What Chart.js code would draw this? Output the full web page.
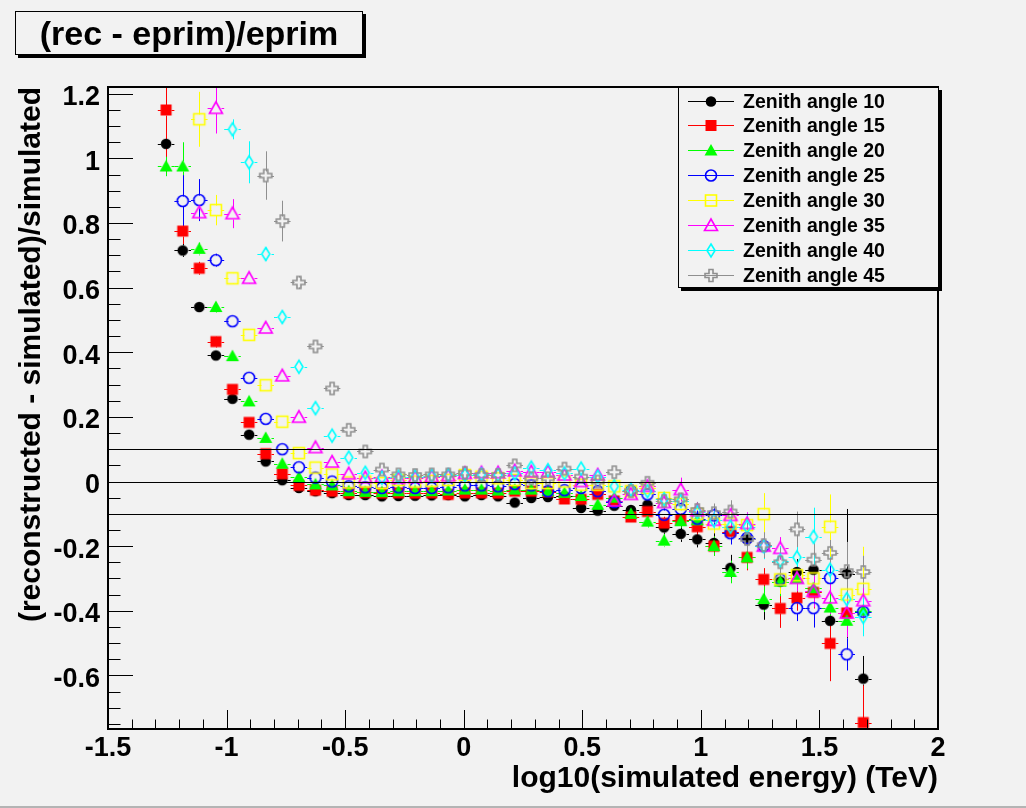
<!DOCTYPE html>
<html lang="en">
<head>
<meta charset="UTF-8">
<title>(rec - eprim)/eprim</title>
<script src="https://cdn.jsdelivr.net/npm/chart.js@4.4.1/dist/chart.umd.min.js"></script>
<style>
  body { margin: 0; background: #f2f2f2; font-family: 'Liberation Sans', Arial, sans-serif; }
  .wrap { position: relative; width: 1026px; height: 808px; overflow: hidden; }
  #plot { position: absolute; left: 0; top: 0; }
  .title-box {
    position: absolute; left: 15px; top: 11px; width: 346px; height: 42px;
    border: 1px solid #000; background: #f2f2f2; box-shadow: 3px 3px 0 #000;
    font-weight: bold; font-size: 34px; line-height: 42px; text-align: center;
  }
  .legend {
    position: absolute; left: 678px; top: 87px; width: 259px; height: 199px;
    border: 1px solid #000; background: #f2f2f2; box-shadow: 3px 3px 0 #000;
  }
  .legend .row { position: absolute; left: 9px; height: 24px; display: flex; align-items: center; }
  .legend .row canvas { display: block; }
  .legend .row span { font-weight: bold; font-size: 19.5px; margin-left: 9px; white-space: nowrap; }
  .bottom-line { position: absolute; left: 0; top: 806px; width: 1026px; height: 2px; background: #b4b4b4; }
</style>
</head>
<body>
<div class="wrap">
  <canvas id="plot" width="1026" height="808"></canvas>
  <div class="title-box">(rec - eprim)/eprim</div>
  <div class="legend" id="legend"></div>
  <div class="bottom-line"></div>
</div>
<script>
// energy bins, log10(E/TeV)
const binCenters = [
  -1.255, -1.185, -1.115, -1.045, -0.975, -0.905, -0.835, -0.765, -0.695, -0.625,
  -0.555, -0.485, -0.415, -0.345, -0.275, -0.205, -0.135, -0.065, 0.005, 0.075,
  0.145, 0.215, 0.285, 0.355, 0.425, 0.495, 0.565, 0.635, 0.705, 0.775,
  0.845, 0.915, 0.985, 1.055, 1.125, 1.195, 1.265, 1.335, 1.405, 1.475,
  1.545, 1.615, 1.685
];
const binHalfWidth = 0.035;

const seriesLabels = ['Zenith angle 10', 'Zenith angle 15', 'Zenith angle 20', 'Zenith angle 25',
                      'Zenith angle 30', 'Zenith angle 35', 'Zenith angle 40', 'Zenith angle 45'];
const seriesColors = ['#000000', '#ff0000', '#00ff00', '#0000ff', '#ffff00', '#ff00ff', '#00ffff', '#8f8f8f'];
const seriesMarkers = ['dot', 'square', 'triangle', 'circleOpen', 'squareOpen', 'triangleOpen', 'diamondOpen', 'crossOpen'];

const zen10 = [
  1.045, 0.715, 0.54, 0.39, 0.256, 0.145, 0.062, 0.004, -0.02, -0.03,
  -0.036, -0.042, -0.042, -0.046, -0.045, -0.044, -0.043, -0.042, -0.046, -0.042,
  -0.046, -0.065, -0.051, -0.048, -0.046, -0.082, -0.09, -0.075, -0.088, -0.072,
  -0.142, -0.162, -0.179, -0.19, -0.267, -0.179, -0.381, -0.31, -0.28, -0.273,
  -0.431, -0.285, -0.61
];
const zen15 = [
  1.15, 0.775, 0.66, 0.433, 0.285, 0.183, 0.086, 0.024, -0.012, -0.027,
  -0.03, -0.036, -0.034, -0.036, -0.035, -0.036, -0.035, -0.04, -0.035, -0.035,
  -0.036, -0.03, -0.03, -0.032, -0.054, -0.055, -0.04, -0.06, -0.11, -0.093,
  -0.129, -0.119, -0.14, -0.2, -0.155, -0.235, -0.303, -0.393, -0.36, -0.343,
  -0.501, -0.407, -0.746
];
const zen20 = [
  0.975, 0.975, 0.72, 0.54, 0.388, 0.248, 0.135, 0.055, 0.013, -0.009,
  -0.012, -0.03, -0.032, -0.033, -0.03, -0.03, -0.03, -0.028, -0.025, -0.025,
  -0.028, -0.025, -0.025, -0.03, -0.035, -0.045, -0.072, -0.05, -0.1, -0.124,
  -0.183, -0.123, -0.12, -0.2, -0.28, -0.235, -0.364, -0.31, -0.3, -0.33,
  -0.39, -0.431, -0.4
];
const zen25 = [
  null, 0.868, 0.871, 0.685, 0.496, 0.321, 0.194, 0.10, 0.044, 0.012,
  0.0, -0.015, -0.018, -0.02, -0.018, -0.02, -0.02, -0.018, -0.012, -0.012,
  -0.015, -0.008, -0.012, -0.03, -0.027, -0.02, -0.03, -0.064, -0.028, -0.04,
  -0.103, -0.085, -0.115, -0.105, -0.16, -0.175, -0.2, -0.303, -0.392, -0.392,
  -0.299, -0.535, -0.403
];
const zen30 = [
  null, null, 1.121, 0.84, 0.629, 0.454, 0.298, 0.185, 0.088, 0.043,
  0.022, -0.003, 0.0, -0.005, 0.005, 0.0, 0.002, 0.005, 0.02, 0.015,
  0.01, 0.005, -0.005, -0.005, 0.0, -0.01, -0.01, -0.015, -0.03, -0.02,
  -0.051, -0.07, -0.1, -0.13, -0.13, -0.135, -0.101, -0.303, -0.29, -0.3,
  -0.14, -0.35, -0.332
];
const zen35 = [
  null, null, 0.832, 1.155, 0.829, 0.629, 0.475, 0.327, 0.199, 0.105,
  0.06, 0.024, 0.012, 0.015, 0.01, 0.012, 0.015, 0.018, 0.025, 0.027,
  0.027, 0.033, 0.03, 0.03, 0.02, 0.0, 0.02, -0.06, -0.04, -0.015,
  -0.065, -0.025, -0.09, -0.12, -0.105, -0.13, -0.2, -0.207, -0.3, -0.34,
  -0.36, -0.407, -0.369
];
const zen40 = [
  null, null, null, null, 1.09, 0.988, 0.704, 0.509, 0.355, 0.227,
  0.142, 0.074, 0.027, 0.012, 0.015, 0.015, 0.018, 0.02, 0.02, 0.022,
  0.02, 0.025, 0.043, 0.035, 0.025, 0.04, 0.015, -0.015, -0.025, -0.03,
  -0.055, -0.06, -0.095, -0.12, -0.14, -0.14, -0.2, -0.245, -0.235, -0.171,
  -0.273, -0.364, -0.419
];
const zen45 = [
  null, null, null, null, null, null, 0.947, 0.806, 0.616, 0.418,
  0.288, 0.16, 0.093, 0.037, 0.022, 0.02, 0.022, 0.022, 0.027, 0.02,
  0.02, 0.05, 0.01, 0.01, 0.04, 0.015, 0.0, 0.029, -0.03, -0.004,
  -0.06, -0.055, -0.088, -0.098, -0.093, -0.178, -0.197, -0.25, -0.148, -0.242,
  -0.221, -0.277, -0.28
];

// statistical errors on the mean
const err10 = [
  0.06, 0.02, 0.012, 0.01, 0.008, 0.008, 0.007, 0.006, 0.005, 0.005,
  0.005, 0.005, 0.005, 0.005, 0.005, 0.005, 0.005, 0.006, 0.006, 0.006,
  0.006, 0.007, 0.007, 0.008, 0.008, 0.009, 0.01, 0.012, 0.012, 0.015,
  0.02, 0.025, 0.025, 0.03, 0.04, 0.03, 0.047, 0.05, 0.04, 0.05,
  0.06, 0.2, 0.07
];
const err15 = [
  0.2, 0.04, 0.02, 0.015, 0.01, 0.01, 0.008, 0.006, 0.005, 0.005,
  0.005, 0.005, 0.005, 0.005, 0.005, 0.005, 0.005, 0.006, 0.006, 0.006,
  0.006, 0.007, 0.007, 0.008, 0.008, 0.009, 0.01, 0.012, 0.012, 0.015,
  0.02, 0.02, 0.025, 0.03, 0.03, 0.04, 0.035, 0.06, 0.04, 0.05,
  0.117, 0.06, 0.115
];
const err20 = [
  0.03, 0.075, 0.02, 0.015, 0.01, 0.01, 0.008, 0.006, 0.005, 0.005,
  0.005, 0.005, 0.005, 0.005, 0.005, 0.005, 0.005, 0.006, 0.006, 0.006,
  0.006, 0.007, 0.007, 0.008, 0.008, 0.009, 0.01, 0.012, 0.012, 0.015,
  0.02, 0.02, 0.025, 0.03, 0.035, 0.035, 0.04, 0.045, 0.04, 0.05,
  0.05, 0.05, 0.06
];
const err25 = [
  null, 0.08, 0.065, 0.02, 0.012, 0.01, 0.008, 0.006, 0.005, 0.005,
  0.005, 0.005, 0.005, 0.005, 0.005, 0.005, 0.005, 0.006, 0.006, 0.006,
  0.006, 0.007, 0.007, 0.008, 0.008, 0.009, 0.01, 0.012, 0.012, 0.015,
  0.02, 0.02, 0.025, 0.03, 0.035, 0.035, 0.04, 0.045, 0.04, 0.06,
  0.04, 0.05, 0.04
];
const err30 = [
  null, null, 0.085, 0.047, 0.015, 0.012, 0.01, 0.008, 0.006, 0.005,
  0.005, 0.005, 0.005, 0.005, 0.005, 0.005, 0.005, 0.006, 0.006, 0.006,
  0.006, 0.007, 0.007, 0.008, 0.008, 0.009, 0.01, 0.012, 0.012, 0.015,
  0.02, 0.02, 0.025, 0.03, 0.035, 0.035, 0.065, 0.045, 0.04, 0.05,
  0.1, 0.05, 0.13
];
const err35 = [
  null, null, 0.02, 0.078, 0.045, 0.015, 0.01, 0.008, 0.006, 0.005,
  0.005, 0.005, 0.005, 0.005, 0.005, 0.005, 0.005, 0.006, 0.006, 0.006,
  0.006, 0.007, 0.007, 0.008, 0.008, 0.009, 0.01, 0.012, 0.012, 0.015,
  0.02, 0.037, 0.025, 0.03, 0.035, 0.035, 0.04, 0.035, 0.04, 0.05,
  0.05, 0.075, 0.05
];
const err40 = [
  null, null, null, null, 0.031, 0.065, 0.02, 0.012, 0.008, 0.006,
  0.005, 0.005, 0.005, 0.005, 0.005, 0.005, 0.005, 0.006, 0.006, 0.006,
  0.006, 0.007, 0.007, 0.008, 0.008, 0.009, 0.01, 0.012, 0.012, 0.015,
  0.02, 0.02, 0.025, 0.03, 0.035, 0.04, 0.04, 0.045, 0.04, 0.09,
  0.04, 0.05, 0.06
];
const err45 = [
  null, null, null, null, null, null, 0.075, 0.063, 0.02, 0.012,
  0.01, 0.008, 0.006, 0.005, 0.005, 0.005, 0.005, 0.006, 0.006, 0.006,
  0.006, 0.007, 0.007, 0.008, 0.008, 0.009, 0.01, 0.012, 0.012, 0.015,
  0.02, 0.02, 0.025, 0.03, 0.035, 0.05, 0.04, 0.045, 0.055, 0.05,
  0.04, 0.09, 0.05
];

const seriesValues = [zen10, zen15, zen20, zen25, zen30, zen35, zen40, zen45];
const seriesErrors = [err10, err15, err20, err25, err30, err35, err40, err45];

const refLines = [-0.1, 0, 0.1];
const xTitle = 'log10(simulated energy) (TeV)';
const yTitle = '(reconstructed - simulated)/simulated';
const FONT = "'Liberation Sans', Arial, sans-serif";

// ROOT-like marker shapes
function drawMarker(c, shape, color, cx, cy) {
  c.save();
  c.fillStyle = color;
  c.strokeStyle = color;
  c.lineWidth = 1.6;
  c.beginPath();
  switch (shape) {
    case 'dot':
      c.arc(cx, cy, 5.3, 0, Math.PI * 2); c.fill(); break;
    case 'square':
      c.fillRect(cx - 5.5, cy - 5.5, 11, 11); break;
    case 'triangle':
      c.moveTo(cx, cy - 6.5); c.lineTo(cx + 6.5, cy + 5); c.lineTo(cx - 6.5, cy + 5);
      c.closePath(); c.fill(); break;
    case 'circleOpen':
      c.arc(cx, cy, 5.5, 0, Math.PI * 2); c.stroke(); break;
    case 'squareOpen':
      c.strokeRect(cx - 5.5, cy - 5.5, 11, 11); break;
    case 'triangleOpen':
      c.moveTo(cx, cy - 6.5); c.lineTo(cx + 6.5, cy + 5); c.lineTo(cx - 6.5, cy + 5);
      c.closePath(); c.stroke(); break;
    case 'diamondOpen':
      c.moveTo(cx, cy - 6.5); c.lineTo(cx + 4, cy); c.lineTo(cx, cy + 6.5); c.lineTo(cx - 4, cy);
      c.closePath(); c.stroke(); break;
    case 'crossOpen': {
      const a = 2, b = 6;
      c.moveTo(cx - a, cy - b); c.lineTo(cx + a, cy - b); c.lineTo(cx + a, cy - a);
      c.lineTo(cx + b, cy - a); c.lineTo(cx + b, cy + a); c.lineTo(cx + a, cy + a);
      c.lineTo(cx + a, cy + b); c.lineTo(cx - a, cy + b); c.lineTo(cx - a, cy + a);
      c.lineTo(cx - b, cy + a); c.lineTo(cx - b, cy - a); c.lineTo(cx - a, cy - a);
      c.closePath(); c.stroke(); break;
    }
  }
  c.restore();
}

function markerImage(shape, color) {
  const cv = document.createElement('canvas');
  cv.width = 18; cv.height = 18;
  drawMarker(cv.getContext('2d'), shape, color, 9, 9);
  return cv;
}

// error bars (drawn under the markers, with a gap around each marker) + frame, ticks, lines
const rootStyle = {
  id: 'rootStyle',
  beforeDatasetsDraw(chart) {
    const { ctx, chartArea: a, scales: { x, y } } = chart;
    ctx.save();
    ctx.beginPath();
    ctx.rect(a.left, a.top, a.right - a.left, a.bottom - a.top);
    ctx.clip();
    ctx.lineWidth = 1;
    const gap = 5;
    chart.data.datasets.forEach((ds, k) => {
      const meta = chart.getDatasetMeta(k);
      ctx.strokeStyle = ds.barColor;
      ds.data.forEach((p, j) => {
        const el = meta.data[j];
        const cx = Math.round(el.x) + 0.5, cy = Math.round(el.y) + 0.5;
        const xl = x.getPixelForValue(p.x - binHalfWidth);
        const xr = x.getPixelForValue(p.x + binHalfWidth);
        const yt = y.getPixelForValue(p.y + p.err);
        const yb = y.getPixelForValue(p.y - p.err);
        ctx.beginPath();
        if (cx - xl > gap) {
          ctx.moveTo(xl, cy); ctx.lineTo(cx - gap, cy);
          ctx.moveTo(cx + gap, cy); ctx.lineTo(xr, cy);
        }
        if (cy - yt > gap) {
          ctx.moveTo(cx, yt); ctx.lineTo(cx, cy - gap);
          ctx.moveTo(cx, cy + gap); ctx.lineTo(cx, yb);
        }
        ctx.stroke();
      });
    });
    ctx.restore();
  },
  afterDatasetsDraw(chart) {
    const { ctx, chartArea: a, scales: { x, y } } = chart;
    ctx.save();
    ctx.strokeStyle = '#000';
    ctx.lineWidth = 1;
    refLines.forEach(v => {
      const py = Math.round(y.getPixelForValue(v)) + 0.5;
      ctx.beginPath(); ctx.moveTo(a.left, py); ctx.lineTo(a.right, py); ctx.stroke();
    });

    // inner tick marks, major at labelled ticks, minor in between
    ctx.beginPath();
    for (let v = -1.5; v <= 2.0001; v += 0.1) {
      const px = Math.round(x.getPixelForValue(v)) + 0.5;
      const major = Math.abs(v * 2 - Math.round(v * 2)) < 1e-6;
      ctx.moveTo(px, a.bottom); ctx.lineTo(px, a.bottom - (major ? 19 : 9.5));
    }
    for (let v = -0.75; v <= 1.2001; v += 0.05) {
      const py = Math.round(y.getPixelForValue(v)) + 0.5;
      const major = Math.abs(v * 5 - Math.round(v * 5)) < 1e-6;
      ctx.moveTo(a.left, py); ctx.lineTo(a.left + (major ? 25 : 12.5), py);
    }
    ctx.stroke();

    ctx.lineWidth = 2;
    ctx.strokeRect(a.left, a.top, a.right - a.left, a.bottom - a.top);
    ctx.restore();
  }
};

const datasets = seriesLabels.map((label, k) => ({
  label,
  barColor: seriesColors[k],
  order: 7 - k,
  pointStyle: markerImage(seriesMarkers[k], seriesColors[k]),
  pointRadius: 5,
  data: binCenters
    .map((bx, i) => seriesValues[k][i] == null ? null : { x: bx, y: seriesValues[k][i], err: seriesErrors[k][i] })
    .filter(p => p)
}));

const tickFmt = v => String(Math.round(v * 10) / 10);

new Chart(document.getElementById('plot'), {
  type: 'scatter',
  data: { datasets },
  options: {
    responsive: false,
    animation: false,
    devicePixelRatio: 1,
    layout: { padding: { top: 87, right: 88, left: 0, bottom: 0 } },
    plugins: { legend: { display: false }, tooltip: { enabled: false } },
    scales: {
      x: {
        type: 'linear', min: -1.5, max: 2,
        afterFit: s => { s.height = 79; },
        grid: { display: false, drawTicks: false },
        border: { display: false },
        ticks: {
          stepSize: 0.5, padding: 3, color: '#000', maxRotation: 0, autoSkip: false,
          font: { family: FONT, weight: 'bold', size: 27 }, callback: tickFmt
        },
        title: {
          display: true, text: xTitle, align: 'end', color: '#000',
          font: { family: FONT, weight: 'bold', size: 30 }, padding: { top: 0, bottom: 11 }
        }
      },
      y: {
        type: 'linear', min: -0.766, max: 1.221,
        afterFit: s => { s.width = 108; },
        grid: { display: false, drawTicks: false },
        border: { display: false },
        ticks: {
          stepSize: 0.2, includeBounds: false, padding: 8, labelOffset: 4, color: '#000',
          font: { family: FONT, weight: 'bold', size: 27 }, callback: tickFmt
        },
        title: {
          display: true, text: yTitle, align: 'end', color: '#000',
          font: { family: FONT, weight: 'bold', size: 30 }, padding: { top: 14, bottom: 0 }
        }
      }
    }
  },
  plugins: [rootStyle]
});

// legend box
const legend = document.getElementById('legend');
const rowCenters = [13, 37, 62, 87, 112, 137, 162, 187];
seriesLabels.forEach((label, k) => {
  const row = document.createElement('div');
  row.className = 'row';
  row.style.top = (rowCenters[k] - 12) + 'px';
  const cv = document.createElement('canvas');
  cv.width = 46; cv.height = 24;
  const c = cv.getContext('2d');
  c.strokeStyle = seriesColors[k];
  c.lineWidth = 1;
  c.beginPath(); c.moveTo(0, 12.5); c.lineTo(46, 12.5); c.stroke();
  drawMarker(c, seriesMarkers[k], seriesColors[k], 23, 12.5);
  const span = document.createElement('span');
  span.textContent = label;
  row.appendChild(cv);
  row.appendChild(span);
  legend.appendChild(row);
});
</script>
</body>
</html>
